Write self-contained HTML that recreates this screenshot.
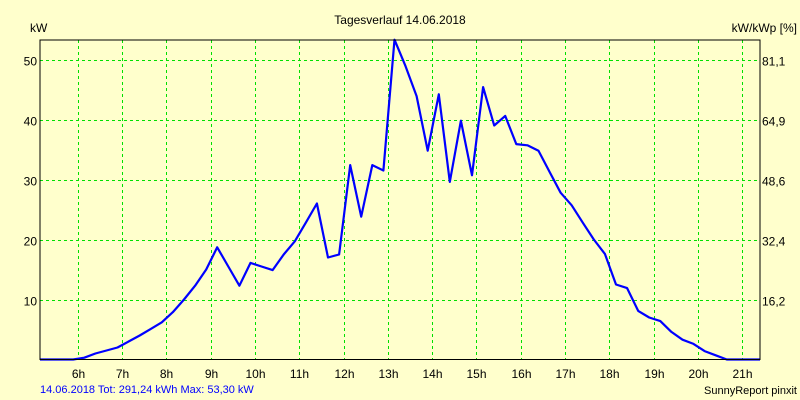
<!DOCTYPE html>
<html><head><meta charset="utf-8"><style>
html,body{margin:0;padding:0;background:#FFFFCC;}
svg{display:block;font-family:"Liberation Sans",Arial,sans-serif;}
</style></head><body>
<svg id="chart" width="800" height="400" viewBox="0 0 800 400">
<rect x="0" y="0" width="800" height="400" fill="#FFFFCC"/>
<text x="400" y="24" font-size="12" text-anchor="middle" fill="#000">Tagesverlauf 14.06.2018</text>
<text x="30" y="32" font-size="12" fill="#000">kW</text>
<text x="797" y="32" font-size="12" text-anchor="end" fill="#000">kW/kWp [%]</text>
<g id="grid"></g>
<g id="ticks"></g>
<path id="series" fill="none" stroke="#0000FF" stroke-width="2.2" stroke-linejoin="round"/>
<rect x="40" y="40" width="720" height="319.5" fill="none" stroke="#000" stroke-width="1"/>
<text x="40" y="393" font-size="11" fill="#0000FF">14.06.2018 Tot: 291,24 kWh Max: 53,30 kW</text>
<text x="797" y="394" font-size="11" text-anchor="end" fill="#000">SunnyReport pinxit</text>
</svg>
<script>
const hourTicks = [6,7,8,9,10,11,12,13,14,15,16,17,18,19,20,21];
const kwTicks = [10,20,30,40,50];
const pctLabels = ["16,2","32,4","48,6","64,9","81,1"];
const startHour = 5.15;
const stepHours = 0.25;
const powerKw = [0,0,0,0,0.3,1.0,1.5,2.0,3.0,4.0,5.1,6.2,7.9,10.0,12.3,15.0,18.7,15.5,12.3,16.1,15.5,14.9,17.5,19.7,22.8,26.0,17.0,17.5,32.4,23.8,32.4,31.5,53.3,
48.9,43.9,34.8,44.2,29.6,39.8,30.7,45.4,39.0,40.6,35.9,35.7,34.8,31.3,27.8,25.7,22.8,20.0,17.6,12.5,11.9,8.1,7.0,6.4,4.6,3.3,2.6,1.4,0.7,0,0,0,0];

const X0=40,X1=760,Y0=359.5,Y1=40;
const tMin=5.15,tMax=21.4,vMax=53.25;
const xs=t=>X0+(t-tMin)/(tMax-tMin)*(X1-X0);
const ys=v=>Y0-(v/vMax)*(Y0-Y1);
const NS="http://www.w3.org/2000/svg";
const grid=document.getElementById('grid'), ticks=document.getElementById('ticks');
function mk(tag,attrs,parent){const e=document.createElementNS(NS,tag);for(const k in attrs)e.setAttribute(k,attrs[k]);parent.appendChild(e);return e;}
hourTicks.forEach(h=>{
  const x=Math.round(xs(h))+0.5;
  const l=mk('line',{x1:x,x2:x,y1:Y1,y2:Y0,stroke:'#00E000','stroke-width':1,'stroke-dasharray':'3,3'},grid);
  
  
  const t=mk('text',{x:x,y:378,'font-size':12,'text-anchor':'middle',fill:'#000'},ticks);
  t.textContent=h+'h';
  
  
});
kwTicks.forEach((v,i)=>{
  const y=Math.round(ys(v))+0.5;
  const l=mk('line',{x1:X0,x2:X1,y1:y,y2:y,stroke:'#00E000','stroke-width':1,'stroke-dasharray':'3,3'},grid);
  
  
  const t=mk('text',{x:37,y:y+5,'font-size':12,'text-anchor':'end',fill:'#000'},ticks);
  t.textContent=v;
  
  
  const r=mk('text',{x:762,y:y+5,'font-size':12,fill:'#000'},ticks);
  r.textContent=pctLabels[i];
  
  
});
let d='';
powerKw.forEach((v,i)=>{const t=startHour+i*stepHours;d+=(i?'L':'M')+xs(t).toFixed(1)+','+ys(v).toFixed(1);});
document.getElementById('series').setAttribute('d',d);
</script>
</body></html>
